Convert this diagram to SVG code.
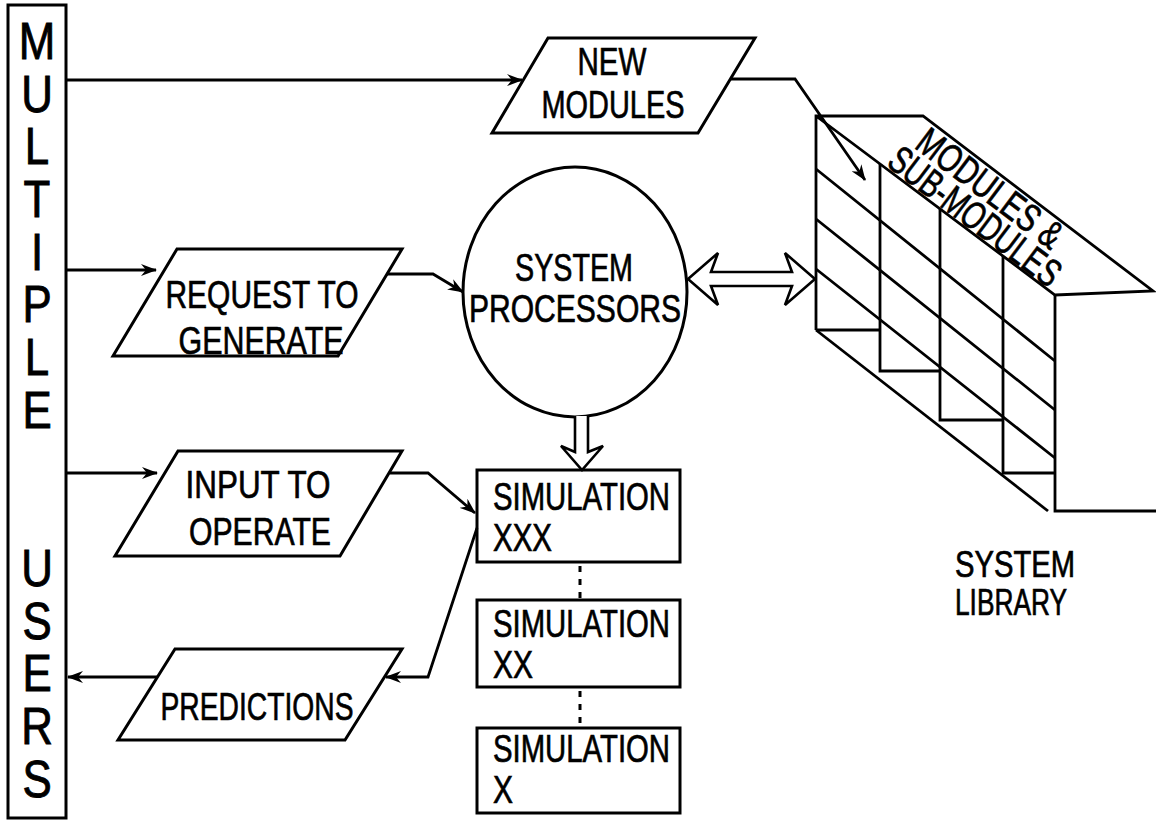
<svg xmlns="http://www.w3.org/2000/svg" width="1156" height="823" viewBox="0 0 1156 823">
<style>
.ln{fill:none;stroke:#000;stroke-width:2.8;stroke-linejoin:miter;stroke-linecap:butt}
.arr{fill:none;stroke:#000;stroke-width:2.8;marker-end:url(#ah)}
.shp{fill:#fff;stroke:#000;stroke-width:3;stroke-linejoin:miter}
.hol{fill:#fff;stroke:#000;stroke-width:2.6;stroke-linejoin:miter}
.t{font-family:"Liberation Sans",Arial,sans-serif;font-size:39px;fill:#000;stroke:#000;stroke-width:0.7}
.tc{text-anchor:middle}
.lib{font-size:36px}
.big{font-family:"Liberation Sans",Arial,sans-serif;font-size:51px;fill:#000;stroke:#000;stroke-width:0.9;text-anchor:middle}
.dot{fill:none;stroke:#000;stroke-width:3;stroke-dasharray:6 7}
</style>
<defs>
<marker id="ah" viewBox="0 0 16 12" refX="15" refY="6" markerWidth="16" markerHeight="12" markerUnits="userSpaceOnUse" orient="auto">
<path d="M0,0 L16,6 L0,12 L5,6 Z" fill="#000"/>
</marker>
</defs>
<rect width="1156" height="823" fill="#fff"/>

<g id="multiple-users">
<rect class="shp" x="8" y="5" width="58" height="813"/>
<g transform="translate(37 0) scale(0.86 1)">
<text class="big"><tspan x="0" y="59">M</tspan><tspan x="0" y="111.7">U</tspan><tspan x="0" y="164.4">L</tspan><tspan x="0" y="217.1">T</tspan><tspan x="0" y="269.8">I</tspan><tspan x="0" y="322.5">P</tspan><tspan x="0" y="375.2">L</tspan><tspan x="0" y="427.9">E</tspan><tspan x="0" y="586">U</tspan><tspan x="0" y="638.7">S</tspan><tspan x="0" y="691.4">E</tspan><tspan x="0" y="744.1">R</tspan><tspan x="0" y="796.8">S</tspan></text>
</g>
</g>

<g id="system-library">
<path class="ln" d="M816,330 L816,116 L923,116 L1153,291 L1055,295 L816,116"/>
<path class="ln" d="M1055,295 L1055,511 L1156,511"/>
<path class="ln" d="M816,330 L1048,511"/>
<path class="ln" d="M816,169 L1055,361 M816,219 L1055,410 M816,269 L1055,458"/>
<path class="ln" d="M816,330 L880,330 M880,164 L880,371 L940,371 M940,209 L940,420 L1003,420 M1003,256 L1003,473 L1055,473"/>
<text class="t tc" transform="translate(982 199) rotate(37)" textLength="172" lengthAdjust="spacingAndGlyphs">MODULES &amp;</text>
<text class="t tc" transform="translate(967 227) rotate(37)" textLength="205" lengthAdjust="spacingAndGlyphs">SUB-MODULES</text>
<text class="t lib" x="955" y="577" textLength="120" lengthAdjust="spacingAndGlyphs">SYSTEM</text>
<text class="t lib" x="955" y="615" textLength="112" lengthAdjust="spacingAndGlyphs">LIBRARY</text>
</g>

<g id="new-modules">
<polygon class="shp" points="548,38 755,38 698,133 492,133"/>
<text class="t tc" x="612" y="75" textLength="69" lengthAdjust="spacingAndGlyphs">NEW</text>
<text class="t tc" x="613" y="118" textLength="143" lengthAdjust="spacingAndGlyphs">MODULES</text>
</g>

<g id="request-to-generate">
<polygon class="shp" points="177,249 402,249 338,356 113,356"/>
<text class="t tc" x="262" y="308" textLength="193" lengthAdjust="spacingAndGlyphs">REQUEST TO</text>
<text class="t tc" x="261" y="354" textLength="165" lengthAdjust="spacingAndGlyphs">GENERATE</text>
</g>

<g id="input-to-operate">
<polygon class="shp" points="178,451 402,451 340,556 115,556"/>
<text class="t tc" x="258" y="498" textLength="145" lengthAdjust="spacingAndGlyphs">INPUT TO</text>
<text class="t tc" x="260" y="545" textLength="142" lengthAdjust="spacingAndGlyphs">OPERATE</text>
</g>

<g id="predictions">
<polygon class="shp" points="175,649 402,649 345,740 118,740"/>
<text class="t tc" x="257" y="720" textLength="193" lengthAdjust="spacingAndGlyphs">PREDICTIONS</text>
</g>

<g id="system-processors">
<ellipse class="shp" cx="575" cy="292" rx="112" ry="125"/>
<text class="t tc" x="574" y="281" textLength="118" lengthAdjust="spacingAndGlyphs">SYSTEM</text>
<text class="t tc" x="575" y="322" textLength="212" lengthAdjust="spacingAndGlyphs">PROCESSORS</text>
</g>

<g id="simulation-xxx">
<rect class="shp" x="477" y="470" width="203" height="92"/>
<text class="t" x="493" y="510" textLength="177" lengthAdjust="spacingAndGlyphs">SIMULATION</text>
<text class="t" x="493" y="551" textLength="59" lengthAdjust="spacingAndGlyphs">XXX</text>
</g>

<g id="simulation-xx">
<rect class="shp" x="477" y="600" width="203" height="87"/>
<text class="t" x="493" y="637" textLength="177" lengthAdjust="spacingAndGlyphs">SIMULATION</text>
<text class="t" x="493" y="678" textLength="40" lengthAdjust="spacingAndGlyphs">XX</text>
</g>

<g id="simulation-x">
<rect class="shp" x="477" y="728" width="203" height="85"/>
<text class="t" x="493" y="762" textLength="177" lengthAdjust="spacingAndGlyphs">SIMULATION</text>
<text class="t" x="493" y="803" textLength="20" lengthAdjust="spacingAndGlyphs">X</text>
</g>

<g id="connectors">
<line class="arr" x1="66" y1="80" x2="522" y2="80"/>
<line class="arr" x1="66" y1="270" x2="156" y2="270"/>
<line class="arr" x1="66" y1="473" x2="157" y2="473"/>
<line class="arr" x1="157" y1="677" x2="68" y2="677"/>
<polyline class="arr" points="730,79 795,79 865,180"/>
<polyline class="arr" points="387,274 433,274 463,292"/>
<polyline class="arr" points="390,473 428,473 475,513"/>
<polyline class="arr" points="477,528 428,677 386,677"/>
<polygon class="hol" points="688,279 718,253 711,272 792,272 785,253 815,279 785,305 792,286 711,286 718,305"/>
<path class="hol" d="M575,416 L575,452 L561,446 L582,470 L603,446 L588,452 L588,416"/>
<line class="dot" x1="580" y1="566" x2="580" y2="598"/>
<line class="dot" x1="580" y1="691" x2="580" y2="726"/>
</g>
</svg>
